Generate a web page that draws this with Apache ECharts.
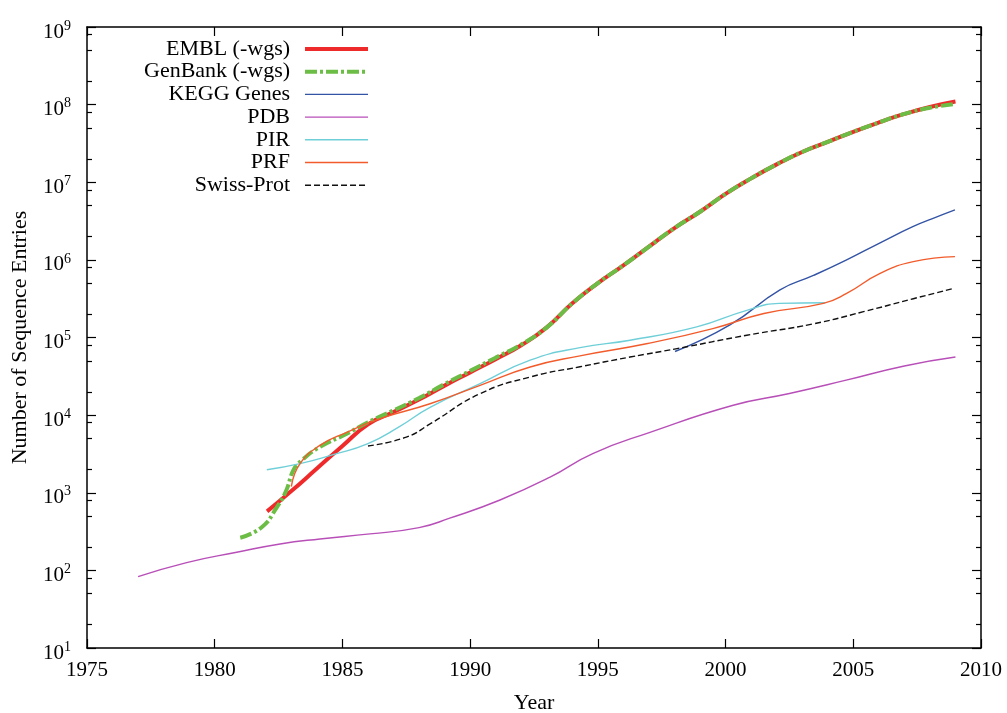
<!DOCTYPE html>
<html>
<head>
<meta charset="utf-8">
<script src="https://cdn.jsdelivr.net/npm/echarts@6/dist/echarts.min.js"></script>
<style>
html,body{margin:0;padding:0;background:#fff;}
#chart{width:1007px;height:713px;}
</style>
</head>
<body>
<div id="chart"></div>
<script>
// ---- data (year, number of entries) ----
const emblData = [
  [1982.05, 575], [1983, 1050], [1984, 2050], [1985, 4000], [1986, 7600],
  [1987, 10960], [1988, 15850], [1989, 23990], [1990, 35480], [1991, 52480],
  [1992, 79430], [1993, 134900], [1994, 275400], [1995, 501200], [1996, 851100],
  [1997, 1479000], [1998, 2570000], [1999, 4169000], [2000, 7079000], [2001, 11220000],
  [2002, 16980000], [2003, 24550000], [2004, 33110000], [2005, 44670000], [2006, 58880000],
  [2007, 75860000], [2008, 93330000], [2009, 109600000]
];
const genbankData = [
  [1981.0, 263], [1981.84, 360], [1982.43, 650], [1982.8, 1070], [1983.08, 1950],
  [1983.4, 2600], [1984.12, 3900], [1985.17, 5750], [1986, 8100], [1987, 11500],
  [1988, 16600], [1989, 25100], [1990, 37150], [1991, 55000], [1992, 81300],
  [1993, 134900], [1994, 275400], [1995, 501200], [1996, 851100], [1997, 1479000],
  [1998, 2570000], [1999, 4169000], [2000, 7079000], [2001, 11220000], [2002, 16980000],
  [2003, 24550000], [2004, 33110000], [2005, 44670000], [2006, 58880000], [2007, 75860000],
  [2008, 91000000], [2009, 102300000]
];
const keggData = [
  [1998.02, 66000], [2000.17, 145000], [2002.13, 410000], [2003.44, 630000],
  [2004.74, 1000000], [2006.05, 1660000], [2007.35, 2700000], [2008.1, 3400000], [2008.98, 4400000]
];
const pdbData = [
  [1977.0, 83], [1978.9, 126], [1980.86, 171], [1982.56, 219], [1984.12, 254],
  [1986.08, 295], [1988.0, 355], [1989.2, 470], [1991.17, 806], [1993.13, 1590],
  [1994.8, 3200], [1997.04, 6000], [2000.3, 13400], [2002.5, 19000], [2004.68, 28000],
  [2007.0, 43000], [2009.0, 56000]
];
const pirData = [
  [1982.04, 1980], [1983.34, 2370], [1984.64, 3100], [1986.0, 4300], [1987.2, 7000],
  [1988.43, 12600], [1990.39, 25400], [1992.35, 51000], [1994.3, 74000], [1996.26, 92000],
  [1998.87, 137000], [2000.83, 224000], [2002.1, 275000], [2003.9, 280000]
];
const prfData = [
  [1983.0, 1200], [1983.34, 2370], [1984.12, 4070], [1985.17, 6000], [1986.47, 9000],
  [1988.43, 14000], [1990.39, 24200], [1992.35, 41700], [1994.3, 58000], [1996.9, 83000],
  [1999.5, 130000], [2001.5, 204000], [2003.83, 275000], [2004.74, 370000], [2006.05, 670000],
  [2007.35, 950000], [2008.98, 1100000]
];
const swissData = [
  [1986.0, 4000], [1987.5, 5200], [1988.43, 7700], [1990.39, 18900], [1992.35, 31000],
  [1994.3, 42000], [1996.26, 56000], [1998.1, 72000], [2000.83, 107000], [2003.44, 150000],
  [2005.4, 215000], [2007.35, 316000], [2008.9, 427000]
];
const seriesNames = ['EMBL (-wgs)', 'GenBank (-wgs)', 'KEGG Genes', 'PDB', 'PIR', 'PRF', 'Swiss-Prot'];
const minorTickValues = [
  20, 50, 80, 200, 500, 800, 2e3, 5e3, 8e3, 2e4, 5e4, 8e4, 2e5, 5e5, 8e5,
  2e6, 5e6, 8e6, 2e7, 5e7, 8e7, 2e8, 5e8, 8e8
];

const FONT = 'Liberation Serif, Times New Roman, serif';
const styles = [
  {color: '#ee2a2a', width: 4, type: 'solid'},
  {color: '#6cbd45', width: 4, type: [12, 3, 3, 3]},
  {color: '#3353a5', width: 1.4, type: 'solid'},
  {color: '#b84fb8', width: 1.4, type: 'solid'},
  {color: '#6fcfd8', width: 1.4, type: 'solid'},
  {color: '#f25c2c', width: 1.4, type: 'solid'},
  {color: '#111111', width: 1.4, type: [6, 3]}
];
const datasets = [emblData, genbankData, keggData, pdbData, pirData, prfData, swissData];

const chart = echarts.init(document.getElementById('chart'), null, {renderer: 'canvas'});

const axisLine = {show: true, lineStyle: {color: '#000', width: 1.5}};
const yCommon = {type: 'log', logBase: 10, min: 10, max: 1e9, splitLine: {show: false}};

const option = {
  backgroundColor: '#fff',
  animation: false,
  grid: {left: 87, right: 26, top: 27, bottom: 65, outerBoundsMode: 'none', containLabel: false},
  legend: {
    orient: 'vertical',
    align: 'right',
    left: 144,
    top: 38,
    padding: 0,
    itemGap: 0.7,
    itemWidth: 63,
    itemHeight: 14,
    selectedMode: false,
    textStyle: {fontFamily: FONT, fontSize: 22, color: '#000', lineHeight: 20, padding: [0, 10, 0, 0]},
    data: seriesNames.map((n, i) => ({
      name: n,
      itemStyle: {opacity: 0},
      lineStyle: {width: styles[i].width, type: styles[i].type, color: styles[i].color}
    }))
  },
  xAxis: [
    {
      type: 'value', position: 'bottom', min: 1975, max: 2010, interval: 5,
      name: 'Year', nameLocation: 'middle', nameGap: 44,
      nameTextStyle: {fontFamily: FONT, fontSize: 22, color: '#000'},
      axisLine: axisLine,
      axisTick: {show: true, inside: true, length: 9, lineStyle: {color: '#000', width: 1.2}},
      axisLabel: {fontFamily: FONT, fontSize: 21, color: '#000', margin: 12, formatter: v => String(v)},
      splitLine: {show: false}
    },
    {
      type: 'value', position: 'top', min: 1975, max: 2010, interval: 5,
      axisLine: axisLine,
      axisTick: {show: true, inside: true, length: 9, lineStyle: {color: '#000', width: 1.2}},
      axisLabel: {show: false},
      splitLine: {show: false}
    }
  ],
  yAxis: [
    Object.assign({}, yCommon, {
      position: 'left',
      name: 'Number of Sequence Entries', nameLocation: 'middle', nameGap: 56,
      nameTextStyle: {fontFamily: FONT, fontSize: 22, color: '#000'},
      axisLine: axisLine,
      axisTick: {show: true, inside: true, length: 9, lineStyle: {color: '#000', width: 1.2}},
      axisLabel: {
        margin: 16,
        padding: [10, 0, 0, 0],
        formatter: v => '{b|10}{s|' + Math.round(Math.log10(v)) + '}',
        rich: {
          b: {fontFamily: FONT, fontSize: 21, color: '#000', lineHeight: 26},
          s: {fontFamily: FONT, fontSize: 14, color: '#000', verticalAlign: 'top', lineHeight: 14}
        }
      }
    }),
    Object.assign({}, yCommon, {
      position: 'left',
      axisLine: {show: false},
      axisTick: {show: true, inside: true, length: 5, customValues: minorTickValues, lineStyle: {color: '#000', width: 1.2}},
      axisLabel: {show: false}
    }),
    Object.assign({}, yCommon, {
      position: 'right',
      axisLine: axisLine,
      axisTick: {show: true, inside: true, length: 9, lineStyle: {color: '#000', width: 1.2}},
      axisLabel: {show: false}
    }),
    Object.assign({}, yCommon, {
      position: 'right',
      axisLine: {show: false},
      axisTick: {show: true, inside: true, length: 5, customValues: minorTickValues, lineStyle: {color: '#000', width: 1.2}},
      axisLabel: {show: false}
    })
  ],
  series: seriesNames.map((n, i) => ({
    name: n,
    type: 'line',
    xAxisIndex: 0,
    yAxisIndex: 0,
    data: datasets[i],
    symbol: 'none',
    showSymbol: false,
    smooth: 0.5,
    color: styles[i].color,
    lineStyle: {color: styles[i].color, width: styles[i].width, type: styles[i].type},
    z: 2 + i
  }))
};
chart.setOption(option);
</script>
</body>
</html>
